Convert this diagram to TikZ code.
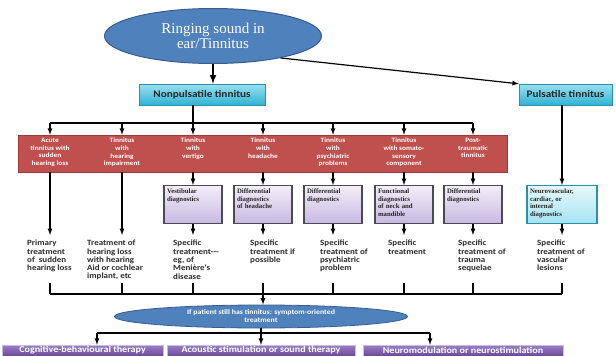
\documentclass[tikz,border=0pt]{standalone}
\usepackage{fontspec}
\setmainfont{Liberation Serif}
\newfontfamily\calibri[FakeStretch=1.12]{Carlito}
\usetikzlibrary{positioning,arrows,shapes.geometric}

\definecolor{ellblue}{HTML}{4F81BD}
\definecolor{ellline}{HTML}{385D8A}
\definecolor{cyantop}{HTML}{9BE0EF}
\definecolor{cyanbot}{HTML}{2FB3D3}
\definecolor{cyanline}{HTML}{2A8FAA}
\definecolor{bandred}{HTML}{C0504D}
\definecolor{bandline}{HTML}{9B3B39}
\definecolor{lavtop}{HTML}{F3EFF8}
\definecolor{lavbot}{HTML}{C8B8E2}
\definecolor{lavline}{HTML}{4A4A55}
\definecolor{icetop}{HTML}{E6F8FC}
\definecolor{icebot}{HTML}{A6E3F2}
\definecolor{purtop}{HTML}{9C7DC8}
\definecolor{purbot}{HTML}{6A4A98}
\definecolor{purline}{HTML}{C9BFD9}
\definecolor{txtgray}{HTML}{2A2A2A}

\begin{document}
\begin{tikzpicture}[x=1pt, y=-1pt, >=latex,
every node/.style={inner sep=0pt},
bigell/.style={ellipse, draw=ellline, line width=1pt, fill=ellblue, text=white, minimum width=217pt, minimum height=55pt, align=center, font=\fontsize{15}{15}\selectfont},
kind/.style={draw=cyanline, top color=cyantop, bottom color=cyanbot, minimum height=21pt, text=black!85, font=\calibri\bfseries\fontsize{10}{10}\selectfont},
band/.style={draw=bandline, fill=bandred, minimum width=489pt, minimum height=37pt},
group/.style={anchor=north, align=center, text=white, font=\calibri\bfseries\fontsize{6.6}{7.7}\selectfont},
diag/.style={anchor=north, draw=lavline, line width=1.2pt, top color=lavtop, bottom color=lavbot, inner sep=3pt, text width=52pt, text height=5pt, text depth=27pt, align=left, text=black!85, font=\bfseries\fontsize{6.8}{7.5}\selectfont},
treat/.style={anchor=north west, inner xsep=0pt, inner ysep=5pt, align=left, text=txtgray, font=\calibri\bfseries\fontsize{8}{8.3}\selectfont},
smallell/.style={ellipse, draw=ellline, line width=0.8pt, fill=ellblue, text=white, minimum width=293pt, minimum height=23pt, align=center, font=\calibri\bfseries\fontsize{7}{8}\selectfont},
therapy/.style={draw=purline, top color=purtop, bottom color=purbot, text=white, minimum height=11pt, font=\calibri\bfseries\fontsize{9}{9}\selectfont},
conn/.style={line width=1.2pt},
arr/.style={->, line width=1.2pt},
tick/.style={line width=2pt}]

\useasboundingbox (0,0) rectangle (616,356);

\node[bigell] (top) at (213,36) {Ringing sound in\\ear/Tinnitus};
\node[kind, minimum width=126pt] (np) at (202,94.5) {Nonpulsatile tinnitus};
\node[kind, minimum width=93pt] (pu) at (565.5,94.5) {Pulsatile tinnitus};

\node[band] (band) at (262.5,153.5) {};
\node[group] (r1) at (50,138)  {Acute\\tinnitus with\\sudden\\hearing loss};
\node[group] (r2) at (122,138) {Tinnitus\\with\\hearing\\impairment};
\node[group] (r3) at (193,138) {Tinnitus\\with\\vertigo};
\node[group] (r4) at (263,138) {Tinnitus\\with\\headache};
\node[group] (r5) at (333,138) {Tinnitus\\with\\psychiatric\\problems};
\node[group] (r6) at (404,138) {Tinnitus\\with somato-\\sensory\\component};
\node[group] (r7) at (473,138) {Post-\\traumatic\\tinnitus};

\node[diag] (d3) at (193,185) {Vestibular\\diagnostics};
\node[diag] (d4) at (263,185) {Differential\\diagnostics\\of headache};
\node[diag] (d5) at (333,185) {Differential\\diagnostics};
\node[diag] (d6) at (404,185) {Functional\\diagnostics\\of neck and\\mandible};
\node[diag] (d7) at (473,185) {Differential\\diagnostics};
\node[diag, draw=cyanline, top color=icetop, bottom color=icebot, text width=64pt] (d8) at (562,185) {Neurovascular,\\cardiac, or\\internal\\diagnostics};

\node[treat] (t1) at (27,235)  {Primary\\treatment\\of~ sudden\\hearing loss};
\node[treat] (t2) at (87,235)  {Treatment of\\hearing loss\\with hearing\\Aid or cochlear\\implant, etc};
\node[treat] (t3) at (173,235) {Specific\\treatment---\\eg, of\\Meni\`ere's\\disease};
\node[treat] (t4) at (250,235) {Specific\\treatment if\\possible};
\node[treat] (t5) at (320,235) {Specific\\treatment of\\psychiatric\\problem};
\node[treat] (t6) at (388,235) {Specific\\treatment};
\node[treat] (t7) at (458,235) {Specific\\treatment of\\trauma\\sequelae};
\node[treat] (t8) at (537,235) {Specific\\treatment of\\vascular\\lesions};

\node[smallell] (bot) at (261,316.5) {If patient still has tinnitus: symptom-oriented\\treatment};
\node[therapy, minimum width=161pt] (b1) at (82.5,350.5) {Cognitive-behavioural therapy};
\node[therapy, minimum width=188pt] (b2) at (261,350.5) {Acoustic stimulation or sound therapy};
\node[therapy, minimum width=200pt] (b3) at (463,350.5) {Neuromodulation or neurostimulation};

\coordinate (h1) at (50,123);
\coordinate (h7) at (473,123);
\coordinate (k1) at (50,294);
\coordinate (k8) at (562,294);
\coordinate (l1) at (97,333);
\coordinate (l3) at (430,333);

% top part
\draw[->, line width=2pt] (top.south) -- (top.south |- np.north);
\draw[arr] (top.-18) -- (pu.north west);
\draw[conn] (r3 |- np.south) -- (r3 |- h1);
\draw[conn] (h1) -- (h7);
\draw[arr] (h1) -- (r1 |- band.north);
\draw[arr] (r2 |- h1) -- (r2 |- band.north);
\draw[arr] (r3 |- h1) -- (r3 |- band.north);
\draw[arr] (r4 |- h1) -- (r4 |- band.north);
\draw[arr] (r5 |- h1) -- (r5 |- band.north);
\draw[arr] (r6 |- h1) -- (r6 |- band.north);
\draw[arr] (h7) -- (r7 |- band.north);

% down to diagnostics and treatment
\draw[arr] (r1 |- band.south) -- (r1 |- t1.north);
\draw[arr] (r2 |- band.south) -- (r2 |- t2.north);
\draw[arr] (r3 |- band.south) -- (d3.north);
\draw[arr] (r4 |- band.south) -- (d4.north);
\draw[arr] (r5 |- band.south) -- (d5.north);
\draw[arr] (r6 |- band.south) -- (d6.north);
\draw[arr] (r7 |- band.south) -- (d7.north);
\draw[arr] (pu.south -| d8.north) -- (d8.north);
\draw[arr] (d3.south) -- (d3.south |- t3.north);
\draw[arr] (d4.south) -- (d4.south |- t4.north);
\draw[arr] (d5.south) -- (d5.south |- t5.north);
\draw[arr] (d6.south) -- (d6.south |- t6.north);
\draw[arr] (d7.south) -- (d7.south |- t7.north);
\draw[arr] (d8.south) -- (d8.south |- t8.north);

% collecting line
\draw[conn] (k1) -- (k8);
\draw[conn] (k1) -- ++(0,-11);
\draw[conn] (k8) -- ++(0,-11);
\draw[tick] (r2 |- k1) -- ++(0,-11);
\draw[tick] (r3 |- k1) -- ++(0,-11);
\draw[tick] (r4 |- k1) -- ++(0,-11);
\draw[tick] (r5 |- k1) -- ++(0,-11);
\draw[tick] (r6 |- k1) -- ++(0,-11);
\draw[tick] (r7 |- k1) -- ++(0,-11);
\draw[arr] (r4 |- k1) -- (r4 |- bot.north);

% therapies
\draw[conn] (l1) -- (l3);
\draw[arr] (l1) -- (l1 |- b1.north);
\draw[arr] (l3) -- (l3 |- b3.north);
\draw[arr] (bot.south) -- (b2.north);

\end{tikzpicture}
\end{document}
